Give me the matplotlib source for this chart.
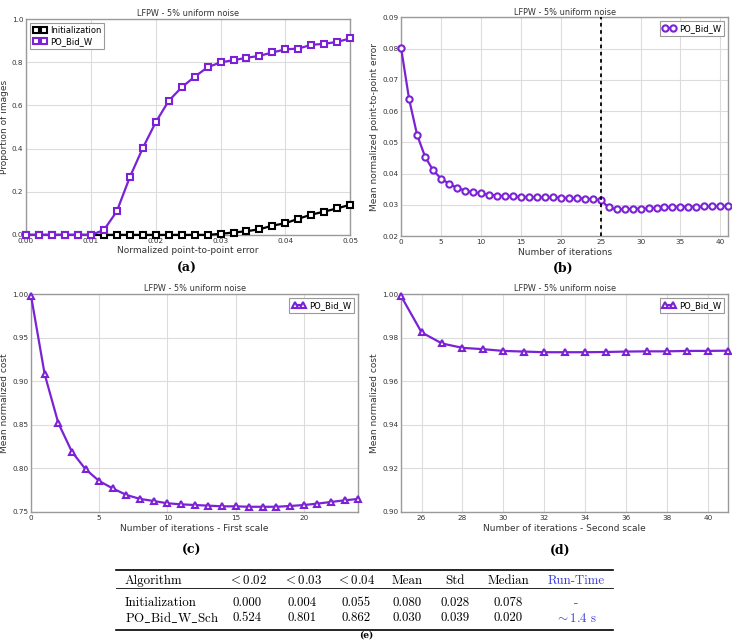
import matplotlib
matplotlib.use("Agg")
import matplotlib.pyplot as plt
import numpy as np

PURPLE = "#7b22d6"
TITLE = "LFPW - 5% uniform noise"

# (a) cumulative error curves
err_x = np.arange(26) * 0.002
init_prop = [0, 0, 0, 0, 0, 0, 0, 0, 0, 0, 0, 0, 0, 0, 0, 0.005,
             0.011, 0.017, 0.026, 0.043, 0.054, 0.075, 0.094, 0.108, 0.123, 0.14]
po_prop = [0, 0, 0, 0, 0, 0, 0.022, 0.109, 0.267, 0.402, 0.522, 0.621, 0.684,
           0.733, 0.777, 0.80, 0.81, 0.821, 0.83, 0.846, 0.86, 0.864, 0.881,
           0.886, 0.895, 0.911]

# (b) mean error per iteration
iters_b = np.arange(42)
mean_err = [0.0801, 0.0638, 0.0524, 0.0454, 0.0411, 0.0384, 0.0368, 0.0354,
            0.0346, 0.0340, 0.0337, 0.0332, 0.0330, 0.0328, 0.0327, 0.0326,
            0.0325, 0.0325, 0.0324, 0.0324, 0.0323, 0.0322, 0.0322, 0.0320,
            0.0318, 0.0316, 0.0292, 0.0286, 0.0286, 0.0288, 0.0288, 0.0289,
            0.0291, 0.0292, 0.0293, 0.0294, 0.0294, 0.0294, 0.0295, 0.0296,
            0.0296, 0.0297]
scale_switch = 25

# (c) cost, first scale
iters_c = np.arange(25)
cost_first = [0.998, 0.908, 0.852, 0.819, 0.799, 0.7855, 0.777, 0.7695, 0.765,
              0.7626, 0.760, 0.7588, 0.758, 0.7573, 0.7565, 0.7565, 0.756, 0.756,
              0.756, 0.7569, 0.758, 0.7596, 0.7615, 0.7634, 0.765]

# (d) cost, second scale
iters_d = np.arange(25, 42)
cost_second = [0.999, 0.9824, 0.9773, 0.9753, 0.9747, 0.9739, 0.9736, 0.9733,
               0.9733, 0.9733, 0.9734, 0.9736, 0.9737, 0.9737, 0.9739, 0.9739,
               0.974]

# (e) table
tab_cols = ["Algorithm", "$<0.02$", "$<0.03$", "$<0.04$", "Mean", "Std", "Median", "Run-Time"]
tab_rows = [
    ["Initialization", "0.000", "0.004", "0.055", "0.080", "0.028", "0.078", "-"],
    [r"$\mathrm{PO\_Bid\_W\_Sch}$", "0.524", "0.801", "0.862", "0.030", "0.039", "0.020", r"$\sim 1.4$ s"],
]

plt.rcParams["mathtext.fontset"] = "cm"
plt.rcParams["font.family"] = "DejaVu Sans"

fig = plt.figure(figsize=(7.32, 6.40), dpi=100)


def style(ax, xlabel, ylabel):
    ax.set_title(TITLE, fontsize=5.9, pad=2, color="#333333")
    ax.set_xlabel(xlabel, fontsize=6.5, labelpad=2, color="#333333")
    ax.set_ylabel(ylabel, fontsize=6.5, labelpad=2, color="#333333")
    ax.tick_params(labelsize=5.2, length=0, pad=2, colors="#333333")
    ax.grid(True, color="#dcdcdc", lw=0.8)
    ax.set_axisbelow(True)
    for s in ax.spines.values():
        s.set_color("#9a9a9a")
        s.set_linewidth(1.0)


def legend(ax, loc):
    lg = ax.legend(loc=loc, fontsize=6, numpoints=2, fancybox=False, framealpha=1,
                   edgecolor="#9a9a9a", handlelength=1.6, borderpad=0.35,
                   handletextpad=0.4, labelspacing=0.2)
    lg.get_frame().set_linewidth(0.8)


mk = dict(mfc="white", mew=1.5, lw=1.6, clip_on=False, zorder=3)

ax = fig.add_axes([0.0355, 0.633, 0.443, 0.337])
ax.plot(err_x, init_prop, color="black", marker="s", ms=4.3, label="Initialization", **mk)
ax.plot(err_x, po_prop, color=PURPLE, marker="s", ms=4.3, label="PO_Bid_W", **mk)
ax.set_xlim(0, 0.05)
ax.set_ylim(0, 1.0)
ax.set_xticks(np.arange(0, 0.051, 0.01))
ax.set_xticklabels([f"{v:.2f}" for v in np.arange(0, 0.051, 0.01)])
ax.set_yticks(np.arange(0, 1.01, 0.2))
style(ax, "Normalized point-to-point error", "Proportion of images")
legend(ax, "upper left")

ax = fig.add_axes([0.548, 0.631, 0.447, 0.342])
ax.plot(iters_b, mean_err, color=PURPLE, marker="o", ms=4.5, label="PO_Bid_W", **mk)
ax.axvline(scale_switch, color="black", ls=(0, (2, 2)), lw=1.3, zorder=4)
ax.set_xlim(0, 41)
ax.set_ylim(0.02, 0.09)
ax.set_xticks(np.arange(0, 41, 5))
ax.set_yticks(np.arange(0.02, 0.0901, 0.01))
ax.set_yticklabels([f"{v:.2f}" for v in np.arange(0.02, 0.0901, 0.01)])
style(ax, "Number of iterations", "Mean normalized point-to-point error")
legend(ax, "upper right")

ax = fig.add_axes([0.0424, 0.2, 0.447, 0.3406])
ax.plot(iters_c, cost_first, color=PURPLE, marker="^", ms=5, label="PO_Bid_W", **mk)
ax.set_xlim(0, 24)
ax.set_ylim(0.75, 1.0)
ax.set_xticks(np.arange(0, 21, 5))
ax.set_yticks(np.arange(0.75, 1.001, 0.05))
ax.set_yticklabels([f"{v:.2f}" for v in np.arange(0.75, 1.001, 0.05)])
style(ax, "Number of iterations - First scale", "Mean normalized cost")
legend(ax, "upper right")

ax = fig.add_axes([0.548, 0.2, 0.447, 0.3406])
ax.plot(iters_d, cost_second, color=PURPLE, marker="^", ms=5, label="PO_Bid_W", **mk)
ax.set_xlim(25, 41)
ax.set_ylim(0.90, 1.0)
ax.set_xticks(np.arange(26, 41, 2))
ax.set_yticks(np.arange(0.90, 1.001, 0.02))
ax.set_yticklabels([f"{v:.2f}" for v in np.arange(0.90, 1.001, 0.02)])
style(ax, "Number of iterations - Second scale", "Mean normalized cost")
legend(ax, "upper right")

# subfigure captions
cap = dict(fontsize=9, fontweight="bold", family="DejaVu Serif", ha="center", va="center")
fig.text(187 / 732, 1 - 268 / 640, "(a)", **cap)
fig.text(563 / 732, 1 - 268 / 640, "(b)", **cap)
fig.text(192 / 732, 1 - 550 / 640, "(c)", **cap)
fig.text(560 / 732, 1 - 550 / 640, "(d)", **cap)
fig.text(0.5, 0.001, "(e)", fontsize=6.5, fontweight="bold", family="DejaVu Serif",
         ha="center", va="bottom")

# table
col_x = [125, 247, 302, 356, 407, 455, 508, 576]
row_y = [581, 603, 618]
x0, x1 = 116 / 732, 613 / 732
for yy, lw in [(570, 1.2), (588, 0.6), (630, 1.2)]:
    fig.add_artist(plt.Line2D([x0, x1], [1 - yy / 640] * 2, color="black", lw=lw))
tf = dict(fontsize=9.3, family="cmr10", va="center")
for j, (txt, xx) in enumerate(zip(tab_cols, col_x)):
    fig.text(xx / 732, 1 - row_y[0] / 640, txt, ha="left" if j == 0 else "center",
             color="#3b3bdc" if j == 7 else "black", **tf)
for row, yy in zip(tab_rows, row_y[1:]):
    for j, (txt, xx) in enumerate(zip(row, col_x)):
        fig.text(xx / 732, 1 - yy / 640, txt, ha="left" if j == 0 else "center",
                 color="#3b3bdc" if j == 7 else "black", **tf)

fig.savefig("out.png", dpi=100)
